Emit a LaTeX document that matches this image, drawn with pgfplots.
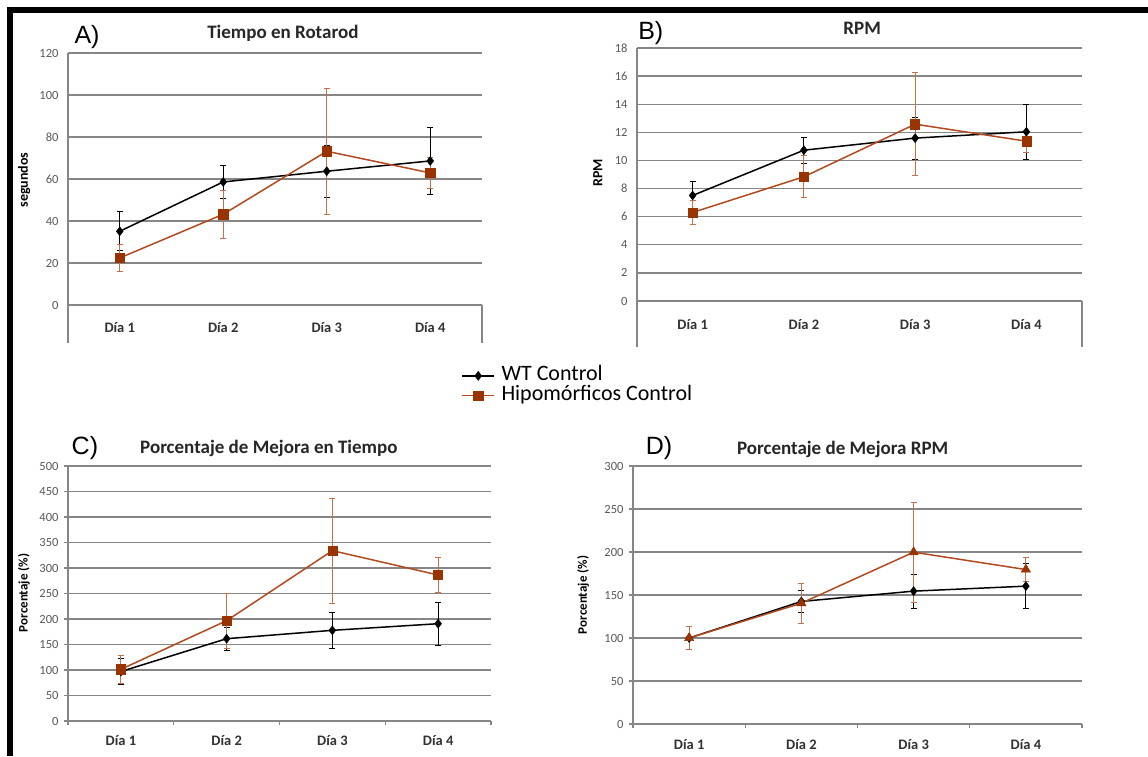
\documentclass[border=0pt]{standalone}
\usepackage{pgfplots}
\pgfplotsset{compat=1.18}
\usepackage{fontspec}
\setmainfont{Carlito}
\newfontfamily\arialf{Liberation Sans}
\definecolor{hipo}{RGB}{178,74,32}
\definecolor{hipofill}{RGB}{153,51,0}
\definecolor{hipoerr}{RGB}{196,112,72}
\definecolor{gridgray}{RGB}{134,134,134}
\definecolor{ticktext}{RGB}{89,89,89}
\definecolor{darktext}{RGB}{50,50,50}
\pgfplotsset{
  panel/.style={
    scale only axis, clip=false,
    axis line style={draw=none},
    ymajorgrids, grid style={gridgray, line width=1.3pt},
    tick style={draw=none},
    xmin=-0.5, xmax=3.5,
    xtick={0,1,2,3}, xticklabels={Día 1,Día 2,Día 3,Día 4},
    /pgf/number format/assume math mode=true,
    yticklabel style={font=\fontsize{12.5}{14}\selectfont, text=ticktext, xshift=-6pt},
    xticklabel style={font=\bfseries\fontsize{14.5}{16}\selectfont, text=darktext, anchor=center},
    every axis title/.style={anchor=center, font=\bfseries\fontsize{19}{22}\selectfont, text=black!85},
    every axis y label/.style={rotate=90, anchor=center, font=\bfseries\fontsize{14}{16}\selectfont},
    legend image code/.code={\draw[mark repeat=2,mark phase=2,#1] plot coordinates {(0pt,0pt) (16pt,0pt) (32pt,0pt)};},
  },
  wt/.style={black, line width=1.5pt, mark=diamond*, mark size=4.5pt, mark options={fill=black, solid, line width=0.5pt},
    error bars/.cd, y dir=both, y explicit,
    error bar style={line width=0.8pt, black},
    error mark options={rotate=90, mark size=3pt, black, line width=0.8pt}},
  hp/.style={hipo, line width=1.5pt, mark=square*, mark size=4.6pt, mark options={fill=hipofill, draw=hipofill, solid, line width=0.5pt},
    error bars/.cd, y dir=both, y explicit,
    error bar style={line width=0.8pt, hipoerr},
    error mark options={rotate=90, mark size=3pt, hipoerr, line width=0.8pt}},
  ht/.style={hipo, line width=1.5pt, mark=triangle*, mark size=5.4pt, mark options={fill=hipofill, draw=hipofill, solid, line width=0.5pt},
    error bars/.cd, y dir=both, y explicit,
    error bar style={line width=0.8pt, hipoerr},
    error mark options={rotate=90, mark size=3pt, hipoerr, line width=0.8pt}},
}
\begin{document}
\begin{tikzpicture}
\useasboundingbox (0,0) rectangle (1148pt,756pt);
\fill[white] (0,0) rectangle (1148pt,756pt);
\draw[line width=6pt, black, line join=miter] (10pt,0pt) -- (10pt,746pt) -- (1148pt,746pt);

% ---------- A ----------
\begin{axis}[panel, at={(68pt,413pt)}, anchor=south west, width=414pt, height=290pt,
  ymin=-18.1, ymax=120, ytick={0,20,...,120},
  xticklabel style={yshift=15pt},
  title={Tiempo en Rotarod}, title style={at={(axis description cs:0.519,1.069)}},
  ylabel={segundos}, ylabel style={at={(axis description cs:-0.106,0.562)}},
  legend style={at={(axis description cs:0.95,-0.079)}, anchor=north west, draw=none, fill=none,
    font=\fontsize{22}{23}\selectfont, inner sep=0pt, row sep=0pt, column sep=5pt,
    nodes={inner sep=1.5pt, text height=13pt, text depth=3.5pt}},
  legend cell align=left]
\draw[gridgray, line width=1.3pt] (axis cs:-0.5,-18.1) -- (axis cs:-0.5,120);
\draw[gridgray, line width=1.3pt] (axis cs:3.5,-18.1) -- (axis cs:3.5,0);
\addplot[wt] coordinates {(0,35.1) +- (0,9.3) (1,58.6) +- (0,8) (2,63.7) +- (0,12.5) (3,68.6) +- (0,16)};
\addlegendentry{WT Control}
\addplot[hp] coordinates {(0,22.4) +- (0,6.3) (1,43.2) +- (0,11.5) (2,73.2) +- (0,30) (3,62.9) +- (0,7.5)};
\addlegendentry{Hipomórficos Control}
\node[font=\arialf\fontsize{25}{28}\selectfont] at (rel axis cs:0.046,1.055) {A)};
\end{axis}

% ---------- B ----------
\begin{axis}[panel, at={(637pt,409pt)}, anchor=south west, width=445pt, height=299pt,
  ymin=-3.27, ymax=18, ytick={0,2,...,18},
  xticklabel style={yshift=22pt},
  title={RPM}, title style={at={(axis description cs:0.506,1.067)}},
  ylabel={RPM}, ylabel style={at={(axis description cs:-0.088,0.582)}}]
\draw[gridgray, line width=1.3pt] (axis cs:-0.5,-3.27) -- (axis cs:-0.5,18);
\draw[gridgray, line width=1.3pt] (axis cs:3.5,-3.27) -- (axis cs:3.5,0);
\addplot[wt] coordinates {(0,7.51) +- (0,1.0) (1,10.73) +- (0,0.93) (2,11.59) +- (0,1.5) (3,12.04) +- (0,1.95)};
\addplot[hp] coordinates {(0,6.30) +- (0,0.85) (1,8.84) +- (0,1.5) (2,12.58) +- (0,3.67) (3,11.37) +- (0,0.8)};
\node[font=\arialf\fontsize{25}{28}\selectfont] at (rel axis cs:0.031,1.050) {B)};
\end{axis}

% ---------- C ----------
\begin{axis}[panel, at={(68pt,35pt)}, anchor=south west, width=423pt, height=255pt,
  ymin=0, ymax=500, ytick={0,50,...,500},
  xticklabel style={yshift=-20pt},
  title={Porcentaje de Mejora en Tiempo}, title style={at={(axis description cs:0.475,1.067)}},
  ylabel={Porcentaje (\%)}, ylabel style={at={(axis description cs:-0.104,0.502)}, font=\bfseries\fontsize{13}{15}\selectfont}]
\draw[gridgray, line width=1.3pt] (axis cs:-0.5,0) -- (axis cs:-0.5,500);
\pgfplotsinvokeforeach{-0.5,0.5,1.5,2.5,3.5}{\draw[gridgray, line width=1.2pt] (axis cs:#1,0) -- ++(0pt,-4pt);}
\pgfplotsinvokeforeach{0,50,...,500}{\draw[gridgray, line width=1.2pt] (axis cs:-0.5,#1) -- ++(-4pt,0pt);}
\addplot[wt] coordinates {(0,97) +- (0,25) (1,161.4) +- (0,22) (2,177.8) +- (0,35) (3,190.8) +- (0,42)};
\addplot[hp] coordinates {(0,101.3) +- (0,28) (1,196.7) +- (0,54) (2,334) +- (0,103) (3,286.3) +- (0,34)};
\node[font=\arialf\fontsize{25}{28}\selectfont] at (rel axis cs:0.040,1.071) {C)};
\end{axis}

% ---------- D ----------
\begin{axis}[panel, at={(633pt,32pt)}, anchor=south west, width=449pt, height=258pt,
  ymin=0, ymax=300, ytick={0,50,...,300},
  xticklabel style={yshift=-21pt},
  title={Porcentaje de Mejora RPM}, title style={at={(axis description cs:0.467,1.066)}},
  ylabel={Porcentaje (\%)}, ylabel style={at={(axis description cs:-0.111,0.5)}, font=\bfseries\fontsize{13}{15}\selectfont}]
\draw[gridgray, line width=1.3pt] (axis cs:-0.5,0) -- (axis cs:-0.5,300);
\pgfplotsinvokeforeach{-0.5,0.5,1.5,2.5,3.5}{\draw[gridgray, line width=1.2pt] (axis cs:#1,0) -- ++(0pt,-4pt);}
\pgfplotsinvokeforeach{0,50,...,300}{\draw[gridgray, line width=1.2pt] (axis cs:-0.5,#1) -- ++(-4pt,0pt);}
\addplot[wt] coordinates {(0,100) +- (0,13) (1,142.5) +- (0,12.4) (2,154.5) +- (0,20) (3,160.3) +- (0,26)};
\addplot[ht] coordinates {(0,100) +- (0,13) (1,140.5) +- (0,23.5) (2,199.8) +- (0,58) (3,179.6) +- (0,13.7)};
\node[font=\arialf\fontsize{25}{28}\selectfont] at (rel axis cs:0.058,1.070) {D)};
\end{axis}
\end{tikzpicture}
\end{document}
